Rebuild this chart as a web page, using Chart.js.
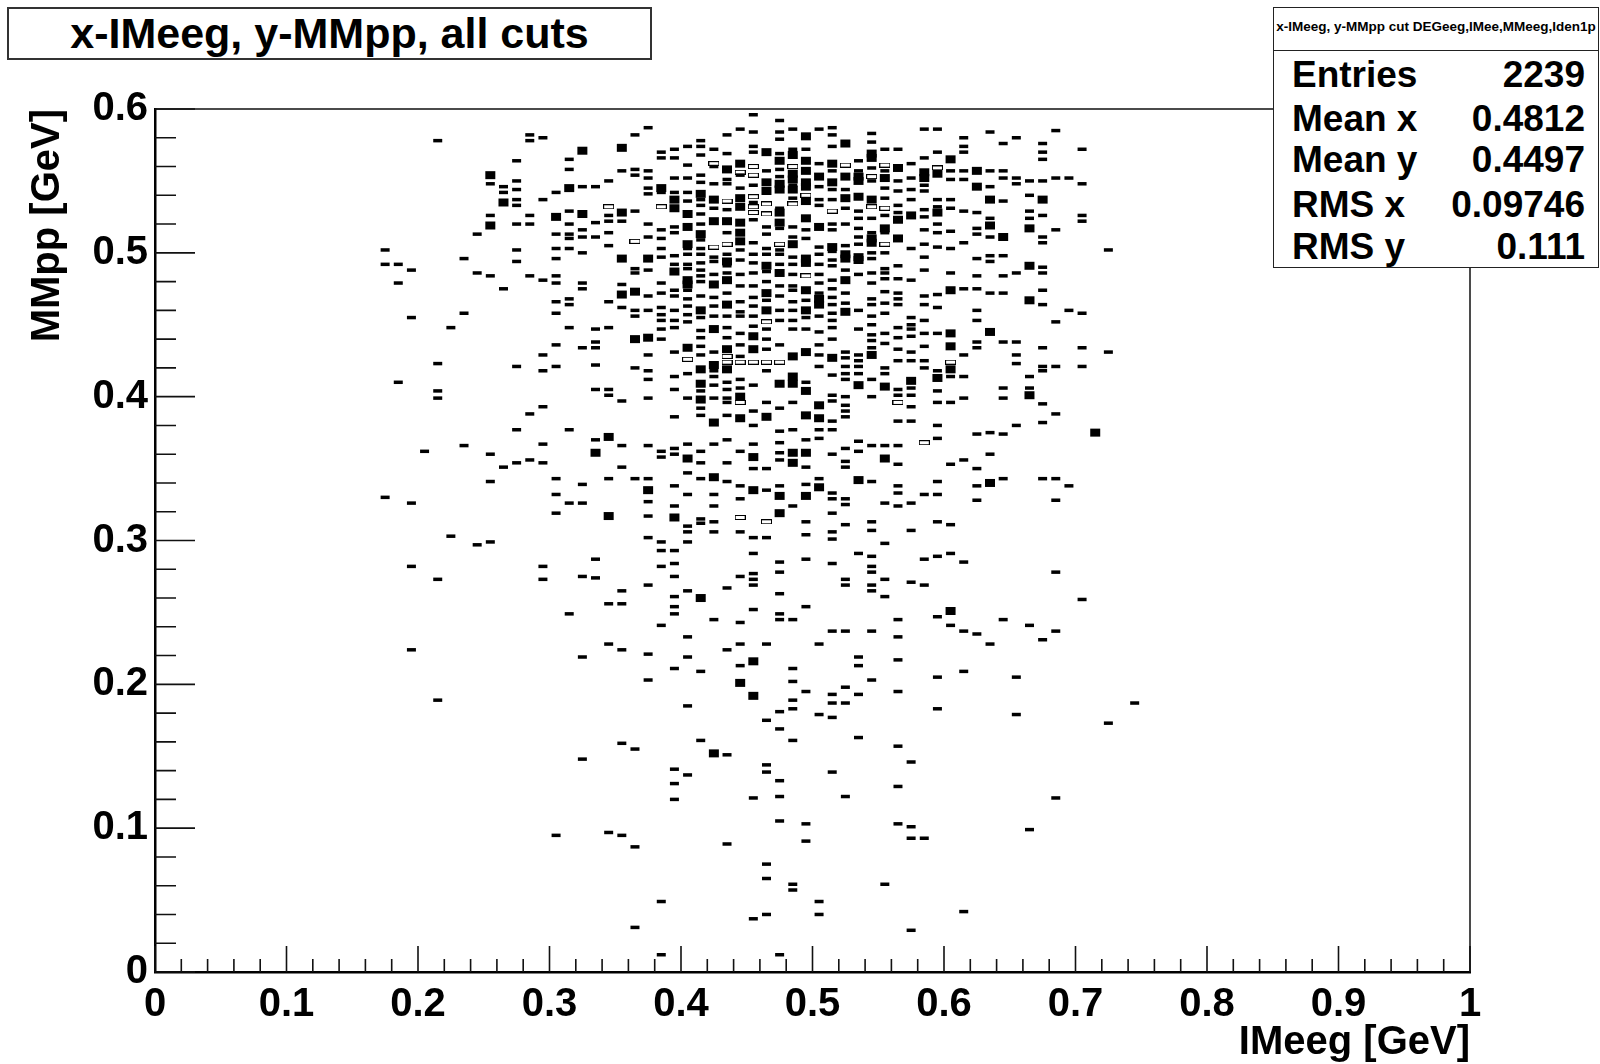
<!DOCTYPE html>
<html>
<head>
<meta charset="utf-8">
<title>x-IMeeg, y-MMpp, all cuts</title>
<script src="https://cdn.jsdelivr.net/npm/chart.js@4.4.1/dist/chart.umd.min.js"></script>
<style>
  html, body { margin: 0; padding: 0; background: #fff; overflow: hidden; }
  #wrap { position: relative; width: 1600px; height: 1064px;
          font-family: 'Liberation Sans', Arial, Helvetica, sans-serif; font-weight: bold; color: #000; }
  canvas { position: absolute; left: 0; top: 0; }
  .box { position: absolute; box-sizing: border-box; background: #fff; }
  #title { left: 7px; top: 7px; width: 645px; height: 53px; border: 2px solid #333; }
  #title span { position: absolute; left: 0; right: 0; top: 2px; text-align: center;
                font-size: 43px; line-height: 44px; }
  #statHead { left: 1273px; top: 7px; width: 326px; height: 44px; border: 1.5px solid #222; }
  #statHead span { position: absolute; left: 0; right: 0; top: 12px; text-align: center;
                   font-size: 13.5px; line-height: 13.5px; white-space: nowrap; }
  #statBody { left: 1273px; top: 49px; width: 326px; height: 219px; border: 1.5px solid #222; }
  .row { position: absolute; left: 1292px; width: 293px; display: flex; justify-content: space-between;
         font-size: 37px; line-height: 37px; white-space: nowrap; }
</style>
</head>
<body>
<div id="wrap">
  <canvas id="grafica" width="1600" height="1064"></canvas>
  <div class="box" id="title"><span>x-IMeeg, y-MMpp, all cuts</span></div>
  <div class="box" id="statBody"></div>
  <div class="box" id="statHead"><span>x-IMeeg, y-MMpp cut DEGeeg,IMee,MMeeg,Iden1p</span></div>
  <div id="stats"></div>
</div>
<script>
// ---- stats box
const statNames = ["Entries", "Mean x", "Mean y", "RMS x", "RMS y"];
const statValues = ["2239", "0.4812", "0.4497", "0.09746", "0.111"];
const statTops = [56, 100, 141, 186, 228];

// ---- bins with one entry (x = bin centre, y list per column)
const thinX = [0.175, 0.185, 0.195, 0.205, 0.215, 0.225, 0.235, 0.245, 0.255, 0.265,
  0.275, 0.285, 0.295, 0.305, 0.315, 0.325, 0.335, 0.345, 0.355, 0.365,
  0.375, 0.385, 0.395, 0.405, 0.415, 0.425, 0.435, 0.445, 0.455, 0.465,
  0.475, 0.485, 0.495, 0.505, 0.515, 0.525, 0.535, 0.545, 0.555, 0.565,
  0.575, 0.585, 0.595, 0.605, 0.615, 0.625, 0.635, 0.645, 0.655, 0.665,
  0.675, 0.685, 0.695, 0.705, 0.725, 0.745];
const thinY = [
  [0.502, 0.492, 0.330],
  [0.492, 0.479, 0.410],
  [0.488, 0.455, 0.326, 0.282, 0.224],
  [0.362],
  [0.578, 0.423, 0.404, 0.399, 0.273, 0.189],
  [0.448, 0.303],
  [0.496, 0.458, 0.366],
  [0.513, 0.486, 0.297],
  [0.548, 0.526, 0.484, 0.360, 0.341, 0.299],
  [0.546, 0.542, 0.475, 0.351],
  [0.564, 0.550, 0.544, 0.537, 0.533, 0.520, 0.502, 0.494, 0.421, 0.377, 0.354],
  [0.582, 0.578, 0.526, 0.520, 0.484, 0.388, 0.356],
  [0.580, 0.537, 0.481, 0.429, 0.418, 0.393, 0.367, 0.354, 0.282, 0.273],
  [0.542, 0.513, 0.503, 0.496, 0.484, 0.479, 0.466, 0.458, 0.436, 0.421, 0.343, 0.332, 0.319, 0.095],
  [0.565, 0.558, 0.529, 0.520, 0.513, 0.510, 0.503, 0.468, 0.464, 0.448, 0.377, 0.326, 0.249],
  [0.546, 0.516, 0.511, 0.500, 0.479, 0.475, 0.434, 0.339, 0.326, 0.275, 0.219, 0.148],
  [0.546, 0.521, 0.511, 0.447, 0.438, 0.434, 0.422, 0.405, 0.370, 0.287, 0.274],
  [0.550, 0.526, 0.522, 0.514, 0.505, 0.466, 0.448, 0.405, 0.401, 0.343, 0.256, 0.228, 0.097],
  [0.557, 0.522, 0.478, 0.462, 0.397, 0.366, 0.351, 0.265, 0.256, 0.224, 0.159, 0.095],
  [0.582, 0.558, 0.554, 0.529, 0.489, 0.486, 0.460, 0.456, 0.420, 0.343, 0.155, 0.087, 0.031],
  [0.587, 0.557, 0.552, 0.545, 0.541, 0.520, 0.511, 0.488, 0.470, 0.460, 0.429, 0.418, 0.412, 0.399,
   0.366, 0.343, 0.327, 0.317, 0.302, 0.269, 0.221, 0.203],
  [0.570, 0.566, 0.542, 0.516, 0.510, 0.503, 0.497, 0.479, 0.472, 0.462, 0.457, 0.453, 0.447, 0.440,
   0.362, 0.358, 0.299, 0.293, 0.282, 0.241, 0.049, 0.012],
  [0.572, 0.566, 0.552, 0.542, 0.518, 0.514, 0.498, 0.492, 0.474, 0.470, 0.460, 0.453, 0.448, 0.431,
   0.414, 0.405, 0.386, 0.364, 0.360, 0.338, 0.324, 0.293, 0.284, 0.275, 0.261, 0.254, 0.249, 0.211,
   0.141, 0.131, 0.120],
  [0.574, 0.561, 0.552, 0.542, 0.536, 0.503, 0.499, 0.492, 0.489, 0.474, 0.468, 0.463, 0.457, 0.452,
   0.416, 0.399, 0.367, 0.347, 0.332, 0.310, 0.306, 0.299, 0.265, 0.233, 0.219, 0.185, 0.137],
  [0.578, 0.574, 0.568, 0.554, 0.549, 0.537, 0.533, 0.527, 0.520, 0.509, 0.503, 0.499, 0.493, 0.488,
   0.484, 0.480, 0.470, 0.455, 0.446, 0.441, 0.435, 0.429, 0.404, 0.392, 0.387, 0.362, 0.354, 0.343,
   0.315, 0.312, 0.209, 0.161],
  [0.572, 0.560, 0.548, 0.531, 0.497, 0.494, 0.485, 0.469, 0.463, 0.456, 0.431, 0.418, 0.414, 0.408,
   0.399, 0.367, 0.332, 0.324, 0.313, 0.306, 0.245],
  [0.582, 0.569, 0.551, 0.548, 0.530, 0.514, 0.499, 0.491, 0.486, 0.472, 0.456, 0.448, 0.441, 0.410,
   0.405, 0.399, 0.396, 0.387, 0.370, 0.354, 0.341, 0.267, 0.224, 0.151, 0.089],
  [0.586, 0.554, 0.545, 0.502, 0.495, 0.485, 0.477, 0.466, 0.459, 0.456, 0.444, 0.436, 0.428, 0.412,
   0.406, 0.362, 0.338, 0.329, 0.306, 0.275, 0.243, 0.228, 0.213],
  [0.596, 0.584, 0.574, 0.570, 0.547, 0.535, 0.523, 0.507, 0.499, 0.493, 0.486, 0.477, 0.469, 0.463,
   0.456, 0.449, 0.408, 0.390, 0.380, 0.367, 0.350, 0.302, 0.291, 0.277, 0.273, 0.269, 0.252, 0.121, 0.037],
  [0.557, 0.518, 0.513, 0.503, 0.499, 0.487, 0.480, 0.467, 0.447, 0.440, 0.433, 0.418, 0.396, 0.350,
   0.335, 0.302, 0.228, 0.175, 0.144, 0.139, 0.075, 0.065, 0.040],
  [0.592, 0.584, 0.579, 0.569, 0.558, 0.553, 0.531, 0.517, 0.502, 0.499, 0.492, 0.477, 0.470, 0.460,
   0.453, 0.436, 0.392, 0.376, 0.368, 0.361, 0.356, 0.338, 0.285, 0.278, 0.263, 0.249, 0.245, 0.181,
   0.169, 0.133, 0.122, 0.105, 0.012],
  [0.586, 0.572, 0.547, 0.538, 0.518, 0.511, 0.497, 0.492, 0.485, 0.477, 0.474, 0.466, 0.460, 0.453,
   0.447, 0.396, 0.377, 0.324, 0.245, 0.211, 0.202, 0.189, 0.183, 0.161, 0.061, 0.057],
  [0.572, 0.516, 0.510, 0.467, 0.455, 0.447, 0.410, 0.370, 0.351, 0.339, 0.313, 0.304, 0.287, 0.254,
   0.195, 0.103, 0.091],
  [0.586, 0.562, 0.546, 0.537, 0.533, 0.504, 0.499, 0.492, 0.485, 0.479, 0.472, 0.456, 0.445, 0.436,
   0.429, 0.421, 0.377, 0.371, 0.343, 0.228, 0.179, 0.049, 0.040],
  [0.587, 0.582, 0.574, 0.557, 0.544, 0.537, 0.520, 0.516, 0.501, 0.495, 0.491, 0.481, 0.475, 0.469,
   0.464, 0.458, 0.453, 0.448, 0.440, 0.415, 0.401, 0.397, 0.383, 0.377, 0.360, 0.333, 0.329, 0.319,
   0.306, 0.301, 0.284, 0.237, 0.193, 0.187, 0.177, 0.139],
  [0.544, 0.531, 0.520, 0.505, 0.488, 0.472, 0.465, 0.431, 0.427, 0.421, 0.416, 0.412, 0.400, 0.394,
   0.390, 0.386, 0.364, 0.355, 0.351, 0.329, 0.325, 0.311, 0.273, 0.269, 0.237, 0.198, 0.187, 0.122],
  [0.564, 0.557, 0.529, 0.524, 0.517, 0.511, 0.506, 0.485, 0.460, 0.447, 0.429, 0.425, 0.421, 0.416,
   0.369, 0.362, 0.291, 0.219, 0.213, 0.193, 0.163],
  [0.583, 0.577, 0.559, 0.550, 0.524, 0.514, 0.500, 0.496, 0.486, 0.479, 0.468, 0.464, 0.456, 0.450,
   0.443, 0.439, 0.434, 0.412, 0.400, 0.366, 0.341, 0.313, 0.307, 0.289, 0.282, 0.278, 0.269, 0.265,
   0.237, 0.203],
  [0.572, 0.557, 0.545, 0.538, 0.526, 0.514, 0.500, 0.489, 0.486, 0.482, 0.473, 0.465, 0.458, 0.444,
   0.437, 0.420, 0.416, 0.366, 0.326, 0.298, 0.273, 0.261, 0.061],
  [0.572, 0.550, 0.543, 0.533, 0.528, 0.491, 0.482, 0.472, 0.468, 0.464, 0.448, 0.441, 0.433, 0.425,
   0.405, 0.401, 0.383, 0.366, 0.353, 0.338, 0.333, 0.324, 0.245, 0.233, 0.217, 0.195, 0.157, 0.129, 0.103],
  [0.562, 0.552, 0.544, 0.537, 0.503, 0.481, 0.455, 0.450, 0.447, 0.442, 0.431, 0.425, 0.406, 0.401,
   0.393, 0.383, 0.326, 0.307, 0.271, 0.146, 0.101, 0.093, 0.029],
  [0.586, 0.566, 0.547, 0.543, 0.530, 0.525, 0.516, 0.506, 0.497, 0.488, 0.470, 0.464, 0.453, 0.444,
   0.435, 0.425, 0.420, 0.332, 0.287, 0.269, 0.093],
  [0.586, 0.570, 0.537, 0.532, 0.520, 0.514, 0.504, 0.471, 0.462, 0.444, 0.418, 0.404, 0.396, 0.380,
   0.371, 0.341, 0.332, 0.313, 0.289, 0.247, 0.205, 0.183],
  [0.557, 0.551, 0.537, 0.531, 0.515, 0.503, 0.486, 0.414, 0.396, 0.353, 0.311, 0.291, 0.241],
  [0.580, 0.574, 0.570, 0.557, 0.551, 0.529, 0.507, 0.475, 0.429, 0.414, 0.399, 0.356, 0.285, 0.237, 0.209, 0.042],
  [0.528, 0.517, 0.513, 0.496, 0.484, 0.475, 0.460, 0.453, 0.438, 0.434, 0.374, 0.350, 0.338, 0.328, 0.235],
  [0.584, 0.557, 0.546, 0.524, 0.511, 0.498, 0.494, 0.472, 0.375, 0.360, 0.228],
  [0.576, 0.557, 0.552, 0.536, 0.498, 0.484, 0.472, 0.438, 0.406, 0.399, 0.374, 0.343, 0.245],
  [0.580, 0.552, 0.548, 0.486, 0.438, 0.429, 0.423, 0.380, 0.205, 0.179],
  [0.550, 0.540, 0.529, 0.524, 0.414, 0.406, 0.241, 0.099],
  [0.576, 0.570, 0.565, 0.550, 0.526, 0.511, 0.507, 0.490, 0.486, 0.474, 0.464, 0.434, 0.421, 0.418,
   0.395, 0.382, 0.343, 0.231],
  [0.585, 0.552, 0.516, 0.452, 0.421, 0.388, 0.343, 0.328, 0.278, 0.237, 0.121],
  [0.552, 0.460, 0.338],
  [0.572, 0.548, 0.526, 0.522, 0.458, 0.434, 0.421, 0.259],
  [0.502, 0.431, 0.173],
  [0.187]
];

// ---- bins with more entries (filled boxes)
const fullX = [0.255, 0.265, 0.305, 0.315, 0.325, 0.335, 0.345, 0.355, 0.365, 0.375,
  0.385, 0.395, 0.405, 0.415, 0.425, 0.435, 0.445, 0.455, 0.465, 0.475,
  0.485, 0.495, 0.505, 0.515, 0.525, 0.535, 0.545, 0.555, 0.565, 0.575,
  0.585, 0.595, 0.605, 0.625, 0.635, 0.645, 0.665, 0.675, 0.715];
const fullY = [
  [0.554, 0.519], [0.535], [0.525], [0.545], [0.571, 0.527], [0.361], [0.372, 0.317],
  [0.573, 0.528, 0.496, 0.471], [0.473, 0.440], [0.496, 0.441, 0.335], [0.545],
  [0.537, 0.531, 0.487, 0.316],
  [0.527, 0.518, 0.506, 0.481, 0.478, 0.434, 0.357],
  [0.541, 0.513, 0.460, 0.419, 0.409, 0.398, 0.260],
  [0.537, 0.522, 0.478, 0.447, 0.422, 0.382, 0.344, 0.152],
  [0.558, 0.522, 0.494, 0.481, 0.464, 0.433, 0.419],
  [0.562, 0.538, 0.532, 0.521, 0.514, 0.508, 0.400, 0.385, 0.201],
  [0.442, 0.433, 0.358, 0.335, 0.216, 0.192],
  [0.570, 0.549, 0.543, 0.491, 0.472, 0.460, 0.386],
  [0.564, 0.548, 0.544, 0.528, 0.521, 0.486, 0.409, 0.331, 0.319],
  [0.568, 0.555, 0.551, 0.544, 0.506, 0.428, 0.414, 0.409, 0.361, 0.354],
  [0.581, 0.564, 0.557, 0.549, 0.546, 0.536, 0.524, 0.496, 0.493, 0.474, 0.460, 0.431, 0.404, 0.387, 0.361, 0.331],
  [0.553, 0.518, 0.468, 0.464, 0.394, 0.385, 0.337],
  [0.562, 0.549, 0.504, 0.427],
  [0.576, 0.553, 0.538, 0.499, 0.496, 0.481, 0.459],
  [0.553, 0.550, 0.539, 0.497, 0.495, 0.408, 0.342],
  [0.569, 0.566, 0.537, 0.510, 0.507, 0.429],
  [0.552, 0.517, 0.407, 0.357],
  [0.559, 0.523, 0.510],
  [0.526, 0.411],
  [0.556, 0.552],
  [0.555, 0.528, 0.413],
  [0.565, 0.474, 0.444, 0.435, 0.419, 0.251],
  [0.557, 0.546],
  [0.537, 0.519, 0.445, 0.340],
  [0.511],
  [0.517, 0.491, 0.467, 0.401],
  [0.537],
  [0.375]
];

// ---- outlined boxes
const openX = [0.345, 0.365, 0.385, 0.405, 0.425, 0.435, 0.445, 0.455, 0.465, 0.475,
  0.485, 0.495, 0.515, 0.525, 0.545, 0.555, 0.565, 0.585, 0.595, 0.605];
const openY = [
  [0.532], [0.508], [0.532], [0.426], [0.562, 0.504], [0.536, 0.506, 0.428, 0.424],
  [0.556, 0.424, 0.396, 0.316], [0.560, 0.554, 0.539, 0.532, 0.528, 0.424],
  [0.534, 0.527, 0.452, 0.424, 0.313], [0.506, 0.424], [0.560, 0.534], [0.540, 0.484],
  [0.529], [0.561], [0.553, 0.532], [0.561, 0.531, 0.506], [0.396], [0.368], [0.559], [0.424]
];

const fuente = "'Liberation Sans', Arial, Helvetica, sans-serif";

// stats rows
statNames.forEach((n, i) => {
  const row = document.createElement("div");
  row.className = "row";
  row.style.top = statTops[i] + "px";
  row.innerHTML = `<span>${n}</span><span>${statValues[i]}</span>`;
  document.getElementById("stats").appendChild(row);
});

function puntos(xs, ys) {
  const pts = [];
  xs.forEach((x, i) => ys[i].forEach(y => pts.push({ x: x, y: y })));
  return pts;
}

// ROOT writes 0, 0.1 ... 1 (no trailing zero)
const etiqueta = v => String(Number(Number(v).toFixed(2)));

// outlined box marker
const cajita = document.createElement("canvas");
cajita.width = 11;
cajita.height = 5;
const cc = cajita.getContext("2d");
cc.strokeStyle = "#000";
cc.lineWidth = 1;
cc.strokeRect(0.5, 0.5, 10, 4);

// inward ticks + top/right frame, ROOT style
const marco = {
  id: "marco",
  afterDraw(chart) {
    const { ctx, chartArea: a, scales: { x, y } } = chart;
    ctx.save();
    ctx.strokeStyle = "#111";
    ctx.lineWidth = 1.5;
    ctx.beginPath();
    ctx.moveTo(a.left, a.top);
    ctx.lineTo(a.right, a.top);
    ctx.lineTo(a.right, a.bottom);
    ctx.stroke();

    ctx.lineWidth = 1.6;
    ctx.beginPath();
    for (let i = 0; i <= 50; i++) {
      const px = x.getPixelForValue(i * 0.02);
      const len = i % 5 === 0 ? 26 : 13;
      ctx.moveTo(px, a.bottom);
      ctx.lineTo(px, a.bottom - len);
    }
    for (let i = 0; i <= 30; i++) {
      const py = y.getPixelForValue(i * 0.02);
      const len = i % 5 === 0 ? 40 : 21;
      ctx.moveTo(a.left, py);
      ctx.lineTo(a.left + len, py);
    }
    ctx.stroke();
    ctx.restore();
  }
};

const ctx = document.getElementById("grafica").getContext("2d");

new Chart(ctx, {
  type: "scatter",
  data: {
    datasets: [
      {
        data: puntos(thinX, thinY),
        pointStyle: "line",
        pointRadius: 4.5,
        pointBorderWidth: 3.5,
        pointBorderColor: "#000",
        pointBackgroundColor: "#000"
      },
      {
        data: puntos(fullX, fullY),
        pointStyle: "line",
        pointRadius: 5,
        pointBorderWidth: 8,
        pointBorderColor: "#000",
        pointBackgroundColor: "#000"
      },
      {
        data: puntos(openX, openY),
        pointStyle: cajita,
        pointRadius: 5
      }
    ]
  },
  options: {
    responsive: false,
    animation: false,
    events: [],
    layout: { padding: { left: 0, top: 109, right: 130, bottom: 0 } },
    plugins: {
      legend: { display: false },
      tooltip: { enabled: false }
    },
    scales: {
      x: {
        type: "linear",
        min: 0,
        max: 1,
        afterFit: s => { s.height = 92; },
        grid: { display: false, drawTicks: false },
        border: { display: true, color: "#000", width: 2.5 },
        ticks: {
          stepSize: 0.1,
          autoSkip: false,
          maxRotation: 0,
          minRotation: 0,
          padding: 9,
          color: "#000",
          callback: etiqueta,
          font: { family: fuente, size: 40, weight: "bold" }
        },
        title: {
          display: true,
          text: "IMeeg [GeV]",
          align: "end",
          color: "#000",
          padding: { top: 0, bottom: 1 },
          font: { family: fuente, size: 40, weight: "bold", lineHeight: 1 }
        }
      },
      y: {
        type: "linear",
        min: 0,
        max: 0.6,
        afterFit: s => { s.width = 155; },
        grid: { display: false, drawTicks: false },
        border: { display: true, color: "#000", width: 2.5 },
        ticks: {
          stepSize: 0.1,
          padding: 7,
          color: "#000",
          callback: etiqueta,
          font: { family: fuente, size: 40, weight: "bold" }
        },
        title: {
          display: true,
          text: "MMpp [GeV]",
          align: "end",
          color: "#000",
          padding: { top: 24, bottom: 0 },
          font: { family: fuente, size: 40, weight: "bold" }
        }
      }
    }
  },
  plugins: [marco]
});
</script>
</body>
</html>
